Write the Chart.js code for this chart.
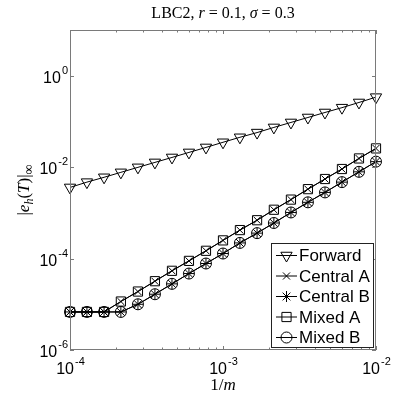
<!DOCTYPE html>
<html>
<head>
<meta charset="utf-8">
<script src="https://cdn.jsdelivr.net/npm/chart.js@4"></script>
<style>
  body { margin: 0; background: #fff; }
  #wrap { width: 415px; height: 395px; }
</style>
</head>
<body>
<div id="wrap"><canvas id="chart"></canvas></div>
<script>
// values (1/m on x, error norm on y)
const xValues = [1e-4, 1.29e-4, 1.67e-4, 2.15e-4, 2.78e-4, 3.59e-4, 4.64e-4, 5.99e-4, 7.74e-4, 1e-3,
                 1.29e-3, 1.67e-3, 2.15e-3, 2.78e-3, 3.59e-3, 4.64e-3, 5.99e-3, 7.74e-3, 1e-2];
const forward  = [3.6e-3, 4.7e-3, 6.0e-3, 7.7e-3, 9.9e-3, 1.27e-2, 1.63e-2, 2.1e-2, 2.7e-2, 3.5e-2,
                  4.5e-2, 5.7e-2, 7.4e-2, 9.5e-2, 0.122, 0.157, 0.20, 0.26, 0.34];
const centralA = [6.8e-6, 6.8e-6, 6.8e-6, 1.15e-5, 1.9e-5, 3.2e-5, 5.4e-5, 8.9e-5, 1.48e-4, 2.5e-4,
                  4.2e-4, 6.9e-4, 1.17e-3, 1.95e-3, 3.3e-3, 5.5e-3, 9.1e-3, 1.55e-2, 2.57e-2];
const centralB = [6.8e-6, 6.8e-6, 6.8e-6, 6.8e-6, 1.0e-5, 1.66e-5, 2.8e-5, 4.7e-5, 7.8e-5, 1.29e-4,
                  2.2e-4, 3.6e-4, 6.0e-4, 1.02e-3, 1.7e-3, 2.8e-3, 4.7e-3, 7.9e-3, 1.32e-2];
const mixedA   = [6.8e-6, 6.8e-6, 6.8e-6, 1.15e-5, 1.9e-5, 3.2e-5, 5.4e-5, 8.9e-5, 1.48e-4, 2.5e-4,
                  4.2e-4, 6.9e-4, 1.17e-3, 1.95e-3, 3.3e-3, 5.5e-3, 9.1e-3, 1.55e-2, 2.57e-2];
const mixedB   = [6.8e-6, 6.8e-6, 6.8e-6, 6.8e-6, 1.0e-5, 1.66e-5, 2.8e-5, 4.7e-5, 7.8e-5, 1.29e-4,
                  2.2e-4, 3.6e-4, 6.0e-4, 1.02e-3, 1.7e-3, 2.8e-3, 4.7e-3, 7.9e-3, 1.32e-2];

const seriesNames = ['Forward', 'Central A', 'Central B', 'Mixed A', 'Mixed B'];
const xTickExps = [-4, -3, -2];
const yTickExps = [-6, -4, -2, 0];

const AXIS_COLOR = '#7a7a7a';
const SANS = '"Liberation Sans", Arial, sans-serif';
const SERIF = '"Liberation Serif", "Times New Roman", serif';

function pts(ys) {
    return ys.map((y, i) => ({ x: xValues[i], y: y }));
}

const markerStyles = [
    { pointStyle: 'triangle', rotation: 180, pointRadius: 6.5 },
    { pointStyle: 'crossRot', rotation: 0, pointRadius: 5 },
    { pointStyle: 'star', rotation: 0, pointRadius: 5.5 },
    { pointStyle: 'rect', rotation: 0, pointRadius: 6.5 },
    { pointStyle: 'circle', rotation: 0, pointRadius: 5.5 },
];
const seriesData = [forward, centralA, centralB, mixedA, mixedB];

const datasets = seriesNames.map((name, i) => ({
    label: name,
    data: pts(seriesData[i]),
    borderColor: '#000',
    borderWidth: 1,
    pointBorderColor: '#000',
    pointBackgroundColor: 'rgba(0,0,0,0)',
    pointBorderWidth: 1,
    pointStyle: markerStyles[i].pointStyle,
    pointRotation: markerStyles[i].rotation,
    pointRadius: markerStyles[i].pointRadius,
    pointHoverRadius: markerStyles[i].pointRadius,
    tension: 0,
    clip: false,
}));

// draw text made of several runs (different fonts / offsets), centred at x
function drawRuns(ctx, runs, x, y) {
    let total = 0;
    runs.forEach(r => { ctx.font = r.font; total += ctx.measureText(r.t).width; });
    let cx = x - total / 2;
    ctx.textAlign = 'left';
    ctx.textBaseline = 'alphabetic';
    runs.forEach(r => {
        ctx.font = r.font;
        ctx.fillText(r.t, cx, y + (r.dy || 0));
        cx += ctx.measureText(r.t).width;
    });
}

function powerLabel(ctx, exp, x, y, align) {
    const base = '16px ' + SANS;
    const sup = '11px ' + SANS;
    const expText = String(exp);
    ctx.font = base;
    const wb = ctx.measureText('10').width;
    ctx.font = sup;
    const we = ctx.measureText(expText).width;
    let left = x;
    if (align === 'right') left = x - wb - we;
    if (align === 'center') left = x - (wb + we) / 2;
    ctx.textAlign = 'left';
    ctx.textBaseline = 'alphabetic';
    ctx.font = base;
    ctx.fillText('10', left, y);
    ctx.font = sup;
    ctx.fillText(expText, left + wb + 1, y - 9);
}

const decorations = {
    id: 'decorations',
    afterDatasetsDraw(chart) {
        const ctx = chart.ctx;
        const a = chart.chartArea;
        const xs = chart.scales.x;
        const ys = chart.scales.y;
        ctx.save();

        // box
        ctx.strokeStyle = AXIS_COLOR;
        ctx.lineWidth = 1;
        ctx.strokeRect(a.left + 0.5, a.top + 0.5, a.right - a.left - 1, a.bottom - a.top - 1);

        // x ticks (major + minor), top and bottom
        ctx.beginPath();
        for (let d = xTickExps[0]; d <= xTickExps[xTickExps.length - 1]; d++) {
            for (let k = 1; k <= 9; k++) {
                const v = k * Math.pow(10, d);
                if (v > xs.max * 1.0001) break;
                const px = Math.round(xs.getPixelForValue(v)) + 0.5;
                const len = k === 1 ? 4 : 2.5;
                ctx.moveTo(px, a.bottom);
                ctx.lineTo(px, a.bottom - len);
                ctx.moveTo(px, a.top);
                ctx.lineTo(px, a.top + len);
            }
        }
        // y ticks, left and right
        yTickExps.forEach(e => {
            const py = Math.round(ys.getPixelForValue(Math.pow(10, e))) + 0.5;
            ctx.moveTo(a.left, py);
            ctx.lineTo(a.left + 4, py);
            ctx.moveTo(a.right, py);
            ctx.lineTo(a.right - 4, py);
        });
        ctx.stroke();

        // tick labels
        ctx.fillStyle = '#000';
        xTickExps.forEach(e => {
            const px = xs.getPixelForValue(Math.pow(10, e));
            powerLabel(ctx, e, px, a.bottom + 24, 'center');
        });
        yTickExps.forEach(e => {
            const py = ys.getPixelForValue(Math.pow(10, e));
            powerLabel(ctx, e, a.left - 3, py + 7, 'right');
        });

        // title
        drawRuns(ctx, [
            { t: 'LBC2, ', font: '16px ' + SERIF },
            { t: 'r', font: 'italic 16px ' + SERIF },
            { t: ' = 0.1, ', font: '16px ' + SERIF },
            { t: 'σ', font: 'italic 16px ' + SERIF },
            { t: ' = 0.3', font: '16px ' + SERIF },
        ], (a.left + a.right) / 2, 18);

        // x title
        drawRuns(ctx, [
            { t: '1/', font: '17px ' + SERIF },
            { t: 'm', font: 'italic 17px ' + SERIF },
        ], (a.left + a.right) / 2, 390);

        // y title (rotated)
        ctx.save();
        ctx.translate(29, (a.top + a.bottom) / 2);
        ctx.rotate(-Math.PI / 2);
        drawRuns(ctx, [
            { t: '|', font: '17px ' + SERIF },
            { t: 'e', font: 'italic 17px ' + SERIF },
            { t: 'h', font: 'italic 12px ' + SERIF, dy: 4 },
            { t: '(', font: '17px ' + SERIF },
            { t: 'T', font: 'italic 17px ' + SERIF },
            { t: ')|', font: '17px ' + SERIF },
            { t: '∞', font: '14px ' + SERIF, dy: 4 },
        ], 0, 0);
        ctx.restore();

        // legend
        const lx = 271, ly = 243, lw = 102, lh = 104;
        ctx.fillStyle = '#fff';
        ctx.fillRect(lx, ly, lw, lh);
        ctx.strokeStyle = '#222';
        ctx.strokeRect(lx + 0.5, ly + 0.5, lw, lh);
        chart.data.datasets.forEach((ds, i) => {
            const yy = ly + 12.5 + i * 20.5;
            ctx.strokeStyle = '#000';
            ctx.lineWidth = 1;
            ctx.beginPath();
            ctx.moveTo(lx + 5, yy);
            ctx.lineTo(lx + 26, yy);
            ctx.stroke();
            ctx.fillStyle = 'rgba(0,0,0,0)';
            Chart.helpers.drawPoint(ctx, {
                pointStyle: ds.pointStyle,
                rotation: ds.pointRotation,
                radius: ds.pointRadius,
                borderWidth: 1,
            }, lx + 15.5, yy);
            ctx.fillStyle = '#000';
            ctx.font = '17px ' + SANS;
            ctx.textAlign = 'left';
            ctx.textBaseline = 'middle';
            ctx.fillText(ds.label, lx + 28, yy + 1);
        });

        ctx.restore();
    }
};

new Chart(document.getElementById('chart'), {
    type: 'line',
    data: { datasets: datasets },
    options: {
        responsive: true,
        maintainAspectRatio: false,
        animation: false,
        layout: { padding: { left: 70, top: 30, right: 39, bottom: 45 } },
        plugins: { legend: { display: false }, tooltip: { enabled: false } },
        scales: {
            x: { type: 'logarithmic', min: 1e-4, max: 1e-2, display: false },
            y: { type: 'logarithmic', min: 1e-6, max: 1e1, display: false },
        },
    },
    plugins: [decorations],
});
</script>
</body>
</html>
